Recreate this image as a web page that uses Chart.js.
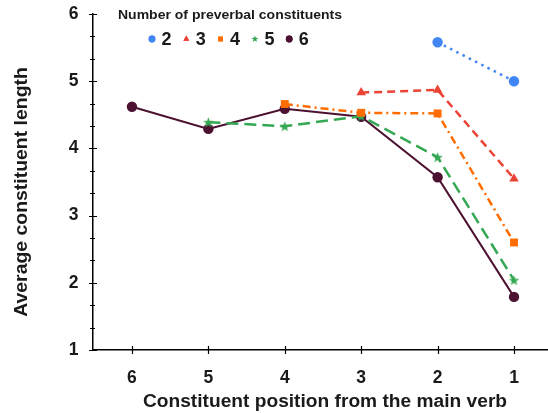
<!DOCTYPE html>
<html>
<head>
<meta charset="utf-8">
<script src="https://cdn.jsdelivr.net/npm/chart.js@4.4.1/dist/chart.umd.min.js"></script>
<style>
  html, body { margin: 0; padding: 0; background: #fff; overflow: hidden; }
  canvas { display: block; }
</style>
</head>
<body>
<canvas id="lenChart" width="548" height="413"></canvas>
<script>
// positions on the x axis, left to right
var positions = ['6', '5', '4', '3', '2', '1'];
// one line per number of preverbal constituents
var seriesNames = ['2', '3', '4', '5', '6'];
var pre2 = [null, null, null, null, 5.58, 5.00];
var pre3 = [null, null, null, 4.83, 4.87, 3.55];
var pre4 = [null, null, 4.66, 4.53, 4.52, 2.60];
var pre5 = [null, 4.39, 4.33, 4.48, 3.87, 2.04];
var pre6 = [4.62, 4.29, 4.59, 4.47, 3.57, 1.79];
var yLabels = [1, 2, 3, 4, 5, 6];

var FONT = "'Liberation Sans', Arial, sans-serif";
var TXT = '#1a1a1a';

function starPath(ctx, cx, cy, r) {
  ctx.beginPath();
  for (var i = 0; i < 10; i++) {
    var rr = i % 2 === 0 ? r : r * 0.42;
    var a = -Math.PI / 2 + i * Math.PI / 5;
    var px = cx + rr * Math.cos(a), py = cy + rr * Math.sin(a);
    if (i === 0) ctx.moveTo(px, py); else ctx.lineTo(px, py);
  }
  ctx.closePath();
}

function makeStar(size, color) {
  var c = document.createElement('canvas');
  c.width = size; c.height = size;
  var g = c.getContext('2d');
  g.fillStyle = color;
  starPath(g, size / 2, size / 2 + 0.5, size / 2);
  g.fill();
  return c;
}

function toPoints(vals) {
  var out = [];
  vals.forEach(function (v, i) { if (v !== null) out.push({ x: i, y: v }); });
  return out;
}

var colors = ['#4285f4', '#ea4335', '#ff6d01', '#34a853', '#4c1130'];
var styles = ['circle', 'triangle', 'rect', makeStar(11, '#34a853'), 'circle'];
var radii = [5.2, 5.5, 5.6, 5, 5.2];
var dashes = [[2.5, 4.5], [8, 5], [8, 4, 2, 4], [12, 6], []];
var widths = [2.5, 2.5, 2.5, 2.5, 2];
var allSeries = [pre2, pre3, pre4, pre5, pre6];

var datasets = allSeries.map(function (vals, k) {
  return {
    label: seriesNames[k],
    data: toPoints(vals),
    borderColor: colors[k],
    backgroundColor: colors[k],
    borderWidth: widths[k],
    borderDash: dashes[k],
    pointStyle: styles[k],
    pointRadius: radii[k],
    pointBorderWidth: 0,
    tension: 0
  };
});

function wideText(ctx, text, x, y, sx) {
  ctx.save();
  ctx.translate(x, y);
  ctx.scale(sx, 1);
  ctx.fillText(text, 0, 0);
  ctx.restore();
}

// tick marks across the axes, legend and axis titles
var decor = {
  id: 'decor',
  afterDatasetsDraw: function (chart) {
    var ctx = chart.ctx, xs = chart.scales.x, ys = chart.scales.y;
    ctx.save();
    ctx.strokeStyle = '#000';
    ctx.lineWidth = 1.2;
    ctx.beginPath();
    xs.ticks.forEach(function (t) {
      var px = Math.round(xs.getPixelForValue(t.value)) + 0.5;
      ctx.moveTo(px, xs.top - 4);
      ctx.lineTo(px, xs.top + 4);
    });
    ys.ticks.forEach(function (t) {
      var py = Math.round(ys.getPixelForValue(t.value)) + 0.5;
      var major = Math.abs(t.value - Math.round(t.value)) < 1e-6;
      ctx.moveTo(ys.right - (major ? 4 : 3), py);
      ctx.lineTo(ys.right + (major ? 4 : 2), py);
    });
    ctx.stroke();
    ctx.restore();
  },
  afterDraw: function (chart) {
    var ctx = chart.ctx;
    ctx.save();
    ctx.fillStyle = TXT;
    ctx.textBaseline = 'middle';

    ctx.font = 'bold 17.5px ' + FONT;
    ctx.textAlign = 'center';
    wideText(ctx, 'Constituent position from the main verb', 325, 402, 1.095);
    ctx.save();
    ctx.translate(22, 192);
    ctx.rotate(-Math.PI / 2);
    wideText(ctx, 'Average constituent length', 0, 0, 1.11);
    ctx.restore();

    ctx.textAlign = 'left';
    ctx.font = 'bold 12.5px ' + FONT;
    wideText(ctx, 'Number of preverbal constituents', 118, 16, 1.12);

    ctx.font = 'bold 18px ' + FONT;
    for (var k = 0; k < seriesNames.length; k++) {
      var x = 152 + k * 34.3, y = 39;
      ctx.fillStyle = colors[k];
      if (k === 3) {
        starPath(ctx, x, y, 3.6);
        ctx.fill();
      } else {
        Chart.helpers.drawPoint(ctx, { pointStyle: styles[k], radius: 3.4, rotation: 0, borderWidth: 0 }, x, y);
        ctx.fill();
      }
      ctx.fillStyle = TXT;
      ctx.fillText(seriesNames[k], x + 9.5, y + 1);
    }
    ctx.restore();
  }
};

var lenChart = new Chart(document.getElementById('lenChart').getContext('2d'), {
  type: 'line',
  data: { datasets: datasets },
  options: {
    responsive: false,
    animation: false,
    layout: { autoPadding: false, padding: { top: 14, left: 0, right: 0, bottom: 0 } },
    plugins: { legend: { display: false }, tooltip: { enabled: false } },
    scales: {
      x: {
        type: 'linear',
        min: -0.51,
        max: 5.445,
        afterBuildTicks: function (s) {
          s.ticks = positions.map(function (p, i) { return { value: i }; });
        },
        afterFit: function (s) {
          s.height = 63;
          s.paddingLeft = 0;
          s.paddingRight = 0;
        },
        ticks: {
          autoSkip: false,
          maxRotation: 0,
          padding: 10,
          color: TXT,
          font: { family: FONT, size: 17.5, weight: 'bold' },
          callback: function (v) { return positions[Math.round(v)]; }
        },
        grid: { display: false },
        border: { color: '#000', width: 1.5 }
      },
      y: {
        min: 1,
        max: 6,
        afterBuildTicks: function (s) {
          var t = [];
          for (var i = 0; i <= 15; i++) t.push({ value: 1 + i / 3 });
          s.ticks = t;
        },
        afterFit: function (s) {
          s.width = 93;
          s.paddingTop = 0;
          s.paddingBottom = 0;
        },
        ticks: {
          autoSkip: false,
          padding: 6.5,
          color: TXT,
          font: { family: FONT, size: 17.5, weight: 'bold' },
          callback: function (v) {
            var r = Math.round(v);
            return (Math.abs(v - r) < 1e-6 && yLabels.indexOf(r) >= 0) ? String(r) : '';
          }
        },
        grid: { display: false },
        border: { color: '#000', width: 1.5 }
      }
    }
  },
  plugins: [decor]
});
</script>
</body>
</html>
